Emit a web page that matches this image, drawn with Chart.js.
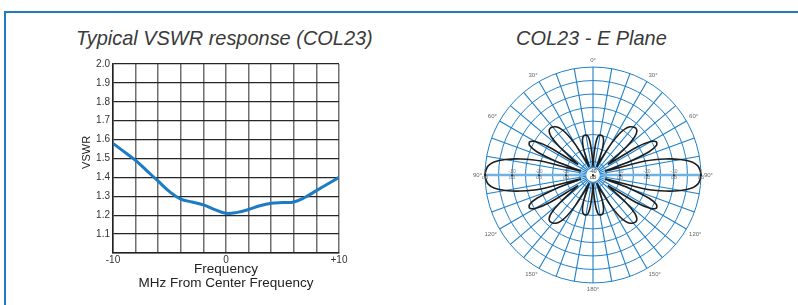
<!DOCTYPE html>
<html>
<head>
<meta charset="utf-8">
<title>COL23 VSWR and E Plane</title>
<script src="https://cdn.jsdelivr.net/npm/chart.js@4.4.1/dist/chart.umd.min.js"></script>
<style>
  html, body { margin: 0; padding: 0; background: #fff; }
  body { width: 798px; height: 305px; position: relative; overflow: hidden; font-family: "Liberation Sans", Arial, sans-serif; }
  #frame { position: absolute; left: 4px; top: 11px; width: 800px; height: 300px; border-top: 2px solid #1f7ac6; border-left: 2px solid #1f7ac6; }
  .title { position: absolute; top: 26px; font-family: "Liberation Sans", Arial, sans-serif; font-style: italic; font-size: 21px; color: #3a3a3a; white-space: nowrap; transform: scaleX(0.95); transform-origin: left center; }
  #vswrTitle { left: 76px; }
  #planeTitle { left: 516px; }
  #vswrBox { position: absolute; left: 76px; top: 55px; width: 274px; height: 235px; }
  #polarBox { position: absolute; left: 473px; top: 55px; width: 240px; height: 240px; }
</style>
</head>
<body>
<div id="frame"></div>
<div class="title" id="vswrTitle">Typical VSWR response (COL23)</div>
<div class="title" id="planeTitle">COL23 - E Plane</div>
<div id="vswrBox"><canvas id="vswrChart"></canvas></div>
<div id="polarBox"><canvas id="polarChart"></canvas></div>

<script>
// ==========================================
// 1. DATA
// ==========================================

// VSWR curve
const freqMHz = [-10, -9, -8, -7, -6, -5, -4, -3, -2, -1, 0, 1, 2, 3, 4, 5, 6, 7, 8, 9, 10];
const vswr = [1.58, 1.535, 1.49, 1.435, 1.38, 1.325, 1.285, 1.27, 1.255, 1.23, 1.21,
              1.215, 1.23, 1.25, 1.263, 1.267, 1.27, 1.295, 1.33, 1.365, 1.40];

const xTickValues = [-10, 0, 10];
const xTickLabels = ['-10', '0', '+10'];
const yTickLabels = ['1.1', '1.2', '1.3', '1.4', '1.5', '1.6', '1.7', '1.8', '1.9', '2.0'];
const xTitle = ['Frequency', 'MHz From Center Frequency'];
// leading spaces nudge the rotated title up a little, like the original
const yTitle = '\u00a0\u00a0\u00a0\u00a0VSWR';

// E plane pattern, dB, one value every 2.5 degrees starting at 0 (top), clockwise
const ePlaneDb = [
  -37, -33, -28, -25.5, -25, -25, -25.5, -27, -30, -34, -36.5, -33,
  -27, -22, -19, -17.5, -16.8, -16.5, -17, -19, -24, -31, -33, -21,
  -15, -13.5, -14, -17.5, -26, -35, -20, -12.5, -7, -3, -1, -0.3,
  0,
  -0.3, -1, -3, -7, -12.5, -20, -35, -26, -17.5, -14, -13.5, -15,
  -21, -33, -31, -24, -19, -17, -16.5, -16.8, -17.5, -19, -22, -27,
  -33, -36.5, -34, -30, -27, -25.5, -25, -25, -25.5, -28, -33,
  -37,
  -33, -28, -25.5, -25, -25, -25.5, -27, -30, -34, -36.5, -33,
  -27, -22, -19, -17.5, -16.8, -16.5, -17, -19, -24, -31, -33, -21,
  -15, -13.5, -14, -17.5, -26, -35, -20, -12.5, -7, -3, -1, -0.3,
  0,
  -0.3, -1, -3, -7, -12.5, -20, -35, -26, -17.5, -14, -13.5, -15,
  -21, -33, -31, -24, -19, -17, -16.5, -16.8, -17.5, -19, -22, -27,
  -33, -36.5, -34, -30, -27, -25.5, -25, -25, -25.5, -28, -33
];

// compass labels every 30 degrees
const compassLabels = ['0°', '30°', '60°', '90°', '120°', '150°', '180°', '150°', '120°', '90°', '60°', '30°'];
// dB rings labelled along the 90° axis
const ringValues = [0, -10, -20, -30, -40];
const ringLabels = ['0', '-10', '-20', '-30', '-40'];

const gridBlue = '#1f7fc8';

// ==========================================
// 2. VSWR LINE CHART
// ==========================================

new Chart(document.getElementById('vswrChart'), {
    type: 'line',
    data: {
        datasets: [{
            data: freqMHz.map((f, i) => ({ x: f, y: vswr[i] })),
            borderColor: '#1b7bc4',
            borderWidth: 3,
            tension: 0.4,
            pointRadius: 0,
            fill: false
        }]
    },
    options: {
        responsive: true,
        maintainAspectRatio: false,
        animation: false,
        layout: { padding: { top: 9, right: 11, left: 0, bottom: 0 } },
        plugins: { legend: { display: false }, tooltip: { enabled: false } },
        scales: {
            x: {
                type: 'linear',
                min: -10,
                max: 10,
                ticks: {
                    stepSize: 2,
                    autoSkip: false,
                    maxRotation: 0,
                    padding: 1,
                    color: '#333',
                    font: { size: 10 },
                    callback: v => {
                        const k = xTickValues.indexOf(v);
                        return k < 0 ? '' : xTickLabels[k];
                    }
                },
                grid: { color: '#6f6f6f', lineWidth: 1.5, drawTicks: false },
                border: { color: '#222', width: 1.5 },
                title: { display: true, text: xTitle, color: '#222', font: { size: 13.5, lineHeight: 1.0 }, padding: 0 },
                afterFit: s => { s.height = 37; }
            },
            y: {
                min: 1,
                max: 2,
                ticks: {
                    stepSize: 0.1,
                    padding: 3,
                    color: '#333',
                    font: { size: 10 },
                    callback: v => {
                        const lbl = Number(v).toFixed(1);
                        return yTickLabels.includes(lbl) ? lbl : '';
                    }
                },
                grid: { color: '#262626', lineWidth: 1.3, drawTicks: false },
                border: { color: '#222', width: 1.5 },
                title: { display: true, text: yTitle, color: '#222', font: { size: 11 }, padding: { top: 4, bottom: 0 } },
                afterFit: s => { s.width = 37; }
            }
        }
    }
});

// ==========================================
// 3. E PLANE POLAR (RADAR) CHART
// ==========================================

// white hub in the middle, under the pattern
const hubPlugin = {
    id: 'hub',
    beforeDatasetsDraw(chart) {
        const r = chart.scales.r;
        const ctx = chart.ctx;
        ctx.save();
        ctx.fillStyle = '#fff';
        ctx.beginPath();
        ctx.arc(r.xCenter, r.yCenter, r.getDistanceFromCenterForValue(-37.5), 0, Math.PI * 2);
        ctx.fill();
        ctx.restore();
    }
};

// small dB marks on the horizontal axis
const ringLabelPlugin = {
    id: 'ringLabels',
    afterDraw(chart) {
        const r = chart.scales.r;
        const ctx = chart.ctx;
        ctx.save();
        ctx.font = '5px "Liberation Sans", Arial, sans-serif';
        ctx.textAlign = 'center';
        ctx.textBaseline = 'middle';
        ringValues.forEach((v, i) => {
            const d = r.getDistanceFromCenterForValue(v);
            [-1, 1].forEach(side => {
                const x = r.xCenter + side * d;
                ctx.fillStyle = '#777';
                ctx.fillText(ringLabels[i], x, r.yCenter - 3);
                ctx.fillText('dB', x, r.yCenter + 3);
                ctx.fillStyle = '#111';
                ctx.fillRect(x - 1, r.yCenter - 0.5, 2, 1.2);
            });
        });
        ctx.restore();
    }
};

const angleLabels = ePlaneDb.map((v, i) => (i % 12 === 0 ? compassLabels[i / 12] : ''));

new Chart(document.getElementById('polarChart'), {
    type: 'radar',
    data: {
        labels: angleLabels,
        datasets: [{
            data: ePlaneDb,
            borderColor: '#1e1e1e',
            borderWidth: 1.6,
            pointRadius: 0,
            fill: false,
            tension: 0.25
        }]
    },
    options: {
        responsive: true,
        maintainAspectRatio: false,
        animation: false,
        plugins: { legend: { display: false }, tooltip: { enabled: false } },
        scales: {
            r: {
                min: -40,
                max: 0,
                ticks: { display: false, stepSize: 5 },
                grid: { circular: true, color: gridBlue, lineWidth: 1 },
                angleLines: {
                    color: ctx => (ctx.index === 36 || ctx.index === 108 ? '#6fb2e3' : gridBlue),
                    lineWidth: ctx => {
                        if (ctx.index % 4 !== 0) return 0;
                        return (ctx.index === 36 || ctx.index === 108) ? 2.5 : 1.1;
                    }
                },
                pointLabels: { font: { size: 6 }, color: '#666', padding: 3 }
            }
        }
    },
    plugins: [hubPlugin, ringLabelPlugin]
});
</script>
</body>
</html>
